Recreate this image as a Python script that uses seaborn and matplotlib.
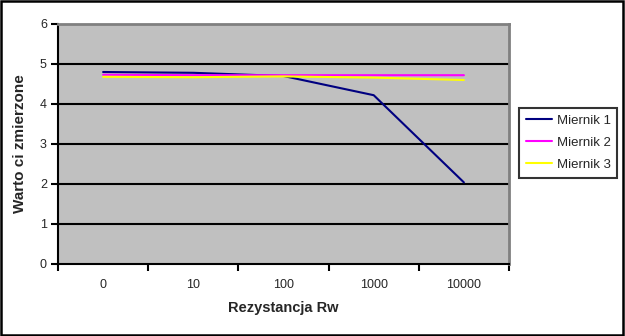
import matplotlib
matplotlib.use("Agg")
import matplotlib.pyplot as plt
import seaborn as sns
import pandas as pd
from matplotlib.patches import Rectangle
from matplotlib.ticker import FixedLocator

categories = ["0", "10", "100", "1000", "10000"]
miernik1 = [4.80, 4.78, 4.70, 4.22, 2.04]
miernik2 = [4.73, 4.72, 4.72, 4.72, 4.72]
miernik3 = [4.68, 4.67, 4.69, 4.66, 4.60]
series_names = ["Miernik 1", "Miernik 2", "Miernik 3"]
colors = ["#000080", "#FF00FF", "#FFFF00"]

rows = []
for name, vals in zip(series_names, [miernik1, miernik2, miernik3]):
    for i, (c, v) in enumerate(zip(categories, vals)):
        rows.append({"pos": i, "cat": c, "value": v, "series": name})
df = pd.DataFrame(rows)

sns.set_style("white")
plt.rcParams["font.family"] = ["Liberation Sans", "DejaVu Sans"]

fig = plt.figure(figsize=(6.25, 3.36), dpi=100)
ax = fig.add_axes([58/625, 1-264/336, (509-58)/625, (264-24)/336])
ax.set_facecolor("#C0C0C0")

sns.lineplot(data=df, x="pos", y="value", hue="series", palette=colors,
             linewidth=1.5, ax=ax, legend=True)

ax.set_xlim(-0.5, 4.5)
ax.set_ylim(0, 6)
ax.set_yticks([0, 1, 2, 3, 4, 5, 6])
ax.set_yticklabels(["0", "1", "2", "3", "4", "5", "6"], fontsize=9)
for y in [1, 2, 3, 4, 5]:
    ax.axhline(y, color="black", linewidth=1.5, zorder=0.5)

ax.set_xticks(range(len(categories)))
ax.set_xticklabels(categories, fontsize=9)
ax.tick_params(axis="x", which="major", length=0, pad=11)
ax.xaxis.set_minor_locator(FixedLocator([i - 0.5 for i in range(len(categories) + 1)]))
ax.tick_params(axis="x", which="minor", length=5, width=1.5, direction="out", color="black", bottom=True)
ax.tick_params(axis="y", which="major", length=5, width=1.5, direction="out", color="black", left=True, pad=3)

for s in ["left", "bottom"]:
    ax.spines[s].set_color("black")
    ax.spines[s].set_linewidth(1.5)
for s in ["top", "right"]:
    ax.spines[s].set_color("#808080")
    ax.spines[s].set_linewidth(2)

ax.set_xlabel("Rezystancja Rw", fontsize=10.5, fontweight="bold", labelpad=7)
ax.set_ylabel("Warto ci zmierzone", fontsize=11, fontweight="bold", labelpad=9)

handles, labels = ax.get_legend_handles_labels()
ax.get_legend().remove()
leg = fig.legend(handles, labels, loc="upper left", bbox_to_anchor=(519/625, 1-108/336),
                 fontsize=9.5, frameon=True, fancybox=False, borderpad=0.5,
                 handlelength=2.0, handletextpad=0.35, labelspacing=0.75, borderaxespad=0)
leg.get_frame().set_edgecolor("black")
leg.get_frame().set_linewidth(1.5)

fig.patches.append(Rectangle((0.001, 0.004), 0.996, 0.994, transform=fig.transFigure,
                             fill=False, edgecolor="black", linewidth=1.8))

fig.savefig("out.png", dpi=100)
